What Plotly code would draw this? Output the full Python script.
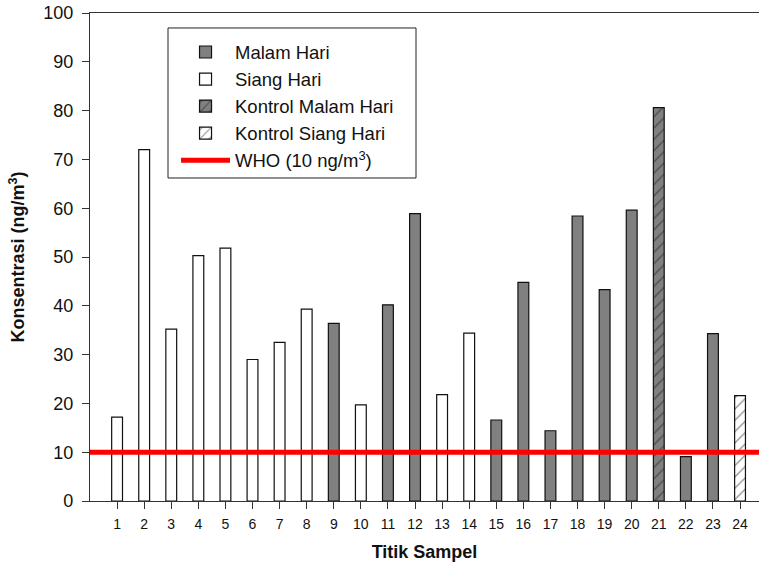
import plotly.graph_objects as go

# ---- data ----
titik = list(range(1, 25))
konsentrasi = [17.2, 72.0, 35.2, 50.3, 51.8, 29.0, 32.5, 39.3, 36.4, 19.7,
               40.2, 58.9, 21.8, 34.4, 16.6, 44.8, 14.4, 58.4, 43.3, 59.6,
               80.6, 9.1, 34.3, 21.6]
# M = Malam Hari, S = Siang Hari, KM = Kontrol Malam Hari, KS = Kontrol Siang Hari
kelompok = ["S", "S", "S", "S", "S", "S", "S", "S", "M", "S",
            "M", "M", "S", "S", "M", "M", "M", "M", "M", "M",
            "KM", "M", "M", "KS"]
who_limit = 10
x_range = [0, 24.7]
y_ticks = list(range(0, 101, 10))

series = [
    ("M", "Malam Hari", "#808080", ""),
    ("S", "Siang Hari", "#ffffff", ""),
    ("KM", "Kontrol Malam Hari", "#808080", "/"),
    ("KS", "Kontrol Siang Hari", "#ffffff", "/"),
]

FONT = "Liberation Sans, Arial, sans-serif"

fig = go.Figure()
for key, name, color, pat in series:
    xs = [t for t, k in zip(titik, kelompok) if k == key]
    ys = [v for v, k in zip(konsentrasi, kelompok) if k == key]
    marker = dict(color=color, line=dict(color="#111111", width=1.2))
    if pat:
        marker["pattern"] = dict(shape=pat, fgcolor="#111111", bgcolor=color,
                                 size=8, solidity=0.15)
    fig.add_trace(go.Bar(x=xs, y=ys, name=name, width=0.4, marker=marker))

fig.add_trace(go.Scatter(x=x_range, y=[who_limit, who_limit], mode="lines",
                         name="WHO (10 ng/m<sup>3</sup>)",
                         line=dict(color="#ff0000", width=5)))

fig.update_layout(
    width=759, height=566,
    margin=dict(l=90, r=0, t=13, b=65),
    paper_bgcolor="white", plot_bgcolor="white",
    font=dict(family=FONT, color="#111111"),
    barmode="overlay",
    showlegend=True,
    legend=dict(x=0.1166 + 0.012, y=0.958, xanchor="left", yanchor="top",
                borderwidth=0, bgcolor="rgba(0,0,0,0)",
                font=dict(size=18.5), itemwidth=49, tracegroupgap=0,
                traceorder="normal"),
    shapes=[dict(type="rect", xref="paper", yref="paper",
                 x0=0.1166, x1=0.4873, y0=0.6619, y1=0.9693,
                 line=dict(color="#222222", width=1), fillcolor="white",
                 layer="below")],
)
fig.update_xaxes(
    range=x_range, tickmode="array", tickvals=titik,
    ticktext=[str(t) for t in titik],
    showgrid=False, zeroline=False,
    showline=True, linecolor="#333333", linewidth=1.2, mirror=True,
    ticks="outside", ticklen=7, tickcolor="#333333",
    tickfont=dict(size=14), ticklabelstandoff=3,
    title=dict(text="<b>Titik Sampel</b>", font=dict(size=18), standoff=14),
)
fig.update_yaxes(
    range=[0, 100], tickmode="array", tickvals=y_ticks,
    showgrid=False, zeroline=False,
    showline=True, linecolor="#333333", linewidth=1.2,
    ticks="outside", ticklen=7, tickcolor="#333333",
    tickfont=dict(size=18), ticklabelstandoff=5,
    title=dict(text="<b>Konsentrasi (ng/m<sup>3</sup>)</b>", font=dict(size=18), standoff=13),
)

fig.write_html("out.html")
